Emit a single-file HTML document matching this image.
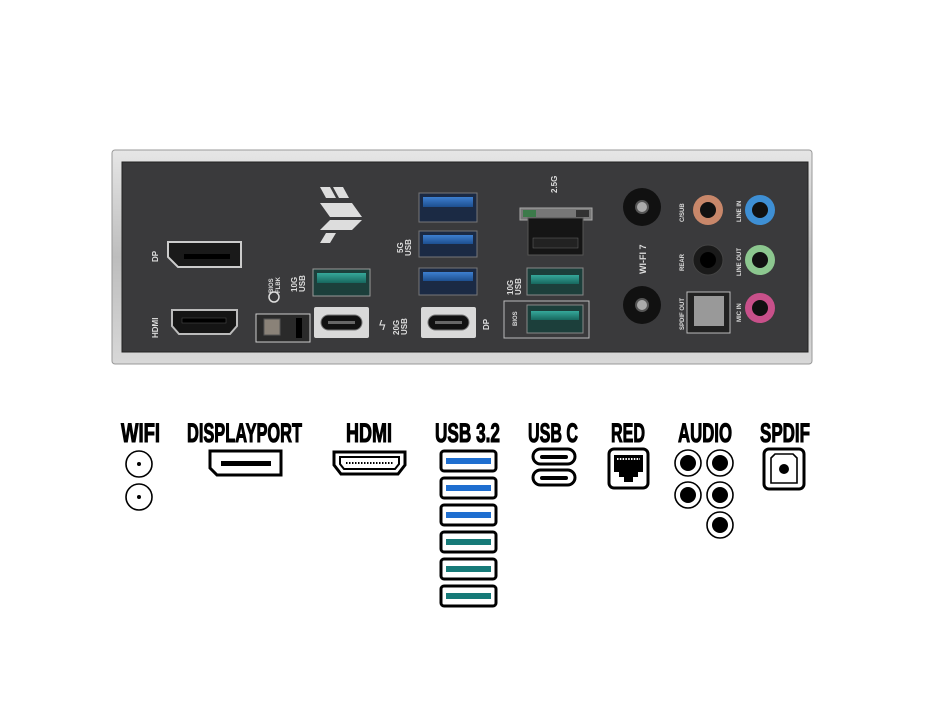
<!DOCTYPE html>
<html><head><meta charset="utf-8"><style>
html,body{margin:0;padding:0;background:#fff;}
svg{display:block;}
.lbl{font-family:"Liberation Sans",sans-serif;font-weight:bold;font-size:27px;fill:#000;stroke:#000;stroke-width:1.1;}
.pt{font-family:"Liberation Sans",sans-serif;font-weight:bold;font-size:8px;fill:#ddd;}
</style></head><body>
<svg width="930" height="708" viewBox="0 0 930 708" xmlns="http://www.w3.org/2000/svg">
<defs>
<linearGradient id="sil" x1="0" y1="0" x2="0" y2="1"><stop offset="0" stop-color="#e6e6e6"/><stop offset="0.5" stop-color="#bdbdbd"/><stop offset="1" stop-color="#d8d8d8"/></linearGradient>
<linearGradient id="blu" x1="0" y1="0" x2="0" y2="1"><stop offset="0" stop-color="#3d7fd0"/><stop offset="1" stop-color="#1d4f8f"/></linearGradient>
<linearGradient id="tea" x1="0" y1="0" x2="0" y2="1"><stop offset="0" stop-color="#35a89a"/><stop offset="1" stop-color="#17675e"/></linearGradient>
</defs>
<rect x="112" y="150" width="700" height="214" rx="3" fill="url(#sil)" stroke="#999" stroke-width="1"/>
<rect x="122" y="162" width="686" height="190" fill="#3a3a3c"/>
<rect x="122" y="162" width="686" height="190" fill="none" stroke="#222" stroke-width="1"/>
<text class="pt" transform="translate(158,262) rotate(-90)">DP</text>
<path d="M168 242 H241 V267 H178 L168 257 Z" fill="#1a1a1a" stroke="#ccc" stroke-width="2"/>
<rect x="184" y="254" width="46" height="5" fill="#000"/>
<text class="pt" transform="translate(158,338) rotate(-90)">HDMI</text>
<path d="M172 310 H237 V326 L230 334 H179 L172 326 Z" fill="#151515" stroke="#bbb" stroke-width="2"/>
<rect x="182" y="318" width="44" height="5" fill="#000" stroke="#555" stroke-width="0.5"/>
<g fill="#ddd">
<polygon points="320,187 330,187 336,198 326,198"/><polygon points="333,187 343,187 349,198 339,198"/>
<polygon points="320,203 352,203 362,217 330,217"/>
<polygon points="330,220 362,220 352,230 320,230"/>
<polygon points="326,233 336,233 330,243 320,243"/>
</g>
<text class="pt" style="font-size:6px" transform="translate(273,293) rotate(-90)">BIOS</text>
<text class="pt" style="font-size:6px" transform="translate(280,293) rotate(-90)">FLBK</text>
<circle cx="274" cy="297" r="5" fill="none" stroke="#ddd" stroke-width="1.5"/>
<rect x="256" y="314" width="54" height="28" fill="#2a2a2a" stroke="#ccc" stroke-width="1"/>
<rect x="264" y="319" width="16" height="16" fill="#8a8278" stroke="#555"/>
<rect x="296" y="318" width="6" height="20" fill="#000"/>
<text class="pt" transform="translate(297,292) rotate(-90)">10G</text>
<text class="pt" transform="translate(305,292) rotate(-90)">USB</text>
<rect x="313" y="269" width="57" height="27" fill="#1c3f3b" stroke="#999" stroke-width="1"/>
<rect x="317" y="273" width="49" height="10" fill="url(#tea)"/>
<rect x="314" y="307" width="55" height="31" rx="2" fill="#d9d9d9"/>
<rect x="321" y="315" width="41" height="15" rx="7.5" fill="#111" stroke="#777"/>
<rect x="328" y="321" width="27" height="3" fill="#666"/>
<text x="378" y="330" style="font-family:'DejaVu Sans',sans-serif;font-size:13px;fill:#ddd">ϟ</text>
<text class="pt" transform="translate(399,335) rotate(-90)">20G</text>
<text class="pt" transform="translate(407,335) rotate(-90)">USB</text>
<g>
<rect x="419" y="193" width="58" height="29" fill="#1b2a44" stroke="#777"/><rect x="423" y="197" width="50" height="10" fill="url(#blu)"/>
<rect x="419" y="231" width="58" height="26" fill="#1b2a44" stroke="#777"/><rect x="423" y="235" width="50" height="9" fill="url(#blu)"/>
<rect x="419" y="268" width="58" height="27" fill="#1b2a44" stroke="#777"/><rect x="423" y="272" width="50" height="9" fill="url(#blu)"/>
</g>
<text class="pt" transform="translate(403,253) rotate(-90)">5G</text>
<text class="pt" transform="translate(411,256) rotate(-90)">USB</text>
<rect x="421" y="307" width="55" height="31" rx="2" fill="#d9d9d9"/>
<rect x="428" y="315" width="41" height="15" rx="7.5" fill="#111" stroke="#777"/>
<rect x="435" y="321" width="27" height="3" fill="#666"/>
<text class="pt" transform="translate(489,330) rotate(-90)">DP</text>
<text class="pt" transform="translate(557,193) rotate(-90)">2.5G</text>
<rect x="520" y="208" width="72" height="12" fill="#777" stroke="#aaa"/>
<rect x="523" y="210" width="13" height="7" fill="#3c7a4a"/>
<rect x="576" y="210" width="13" height="7" fill="#333"/>
<rect x="528" y="218" width="55" height="37" fill="#151515" stroke="#555"/>
<rect x="533" y="238" width="45" height="10" fill="#222" stroke="#666" stroke-width="0.5"/>
<text class="pt" transform="translate(513,295) rotate(-90)">10G</text>
<text class="pt" transform="translate(521,295) rotate(-90)">USB</text>
<rect x="527" y="268" width="56" height="27" fill="#1c3f3b" stroke="#888"/><rect x="531" y="275" width="48" height="9" fill="url(#tea)"/>
<rect x="504" y="301" width="85" height="37" fill="none" stroke="#bbb" stroke-width="1"/>
<text class="pt" style="font-size:6px" transform="translate(517,326) rotate(-90)">BIOS</text>
<rect x="527" y="305" width="56" height="28" fill="#1c3f3b" stroke="#888"/><rect x="531" y="311" width="48" height="9" fill="url(#tea)"/>
<circle cx="642" cy="207" r="19" fill="#111"/><circle cx="642" cy="207" r="6" fill="#aaa" stroke="#555" stroke-width="2"/>
<circle cx="642" cy="305" r="19" fill="#111"/><circle cx="642" cy="305" r="6" fill="#aaa" stroke="#555" stroke-width="2"/>
<text class="pt" style="font-size:9px" transform="translate(646,274) rotate(-90)">WI-FI 7</text>
<text class="pt" style="font-size:6px" transform="translate(684,222) rotate(-90)">C/SUB</text>
<text class="pt" style="font-size:6px" transform="translate(684,271) rotate(-90)">REAR</text>
<text class="pt" style="font-size:6px" transform="translate(684,330) rotate(-90)">SPDIF OUT</text>
<text class="pt" style="font-size:6px" transform="translate(741,222) rotate(-90)">LINE IN</text>
<text class="pt" style="font-size:6px" transform="translate(741,276) rotate(-90)">LINE OUT</text>
<text class="pt" style="font-size:6px" transform="translate(741,322) rotate(-90)">MIC IN</text>
<circle cx="708" cy="210" r="15" fill="#c8876a"/><circle cx="708" cy="210" r="8" fill="#111"/>
<circle cx="760" cy="210" r="15" fill="#3e8fd4"/><circle cx="760" cy="210" r="8" fill="#111"/>
<circle cx="708" cy="260" r="15" fill="#1a1a1a" stroke="#444"/><circle cx="708" cy="260" r="8" fill="#000"/>
<circle cx="760" cy="260" r="15" fill="#8cc78f"/><circle cx="760" cy="260" r="8" fill="#111"/>
<circle cx="760" cy="308" r="15" fill="#c8508a"/><circle cx="760" cy="308" r="8" fill="#111"/>
<rect x="687" y="292" width="43" height="41" fill="#222" stroke="#bbb"/>
<path d="M694 296 H724 V326 H694 Z" fill="#999"/>
<text class="lbl" x="121" y="442" textLength="39" lengthAdjust="spacingAndGlyphs">WIFI</text>
<text class="lbl" x="187" y="442" textLength="115" lengthAdjust="spacingAndGlyphs">DISPLAYPORT</text>
<text class="lbl" x="346" y="442" textLength="46" lengthAdjust="spacingAndGlyphs">HDMI</text>
<text class="lbl" x="435" y="442" textLength="65" lengthAdjust="spacingAndGlyphs">USB 3.2</text>
<text class="lbl" x="528" y="442" textLength="50" lengthAdjust="spacingAndGlyphs">USB C</text>
<text class="lbl" x="611" y="442" textLength="34" lengthAdjust="spacingAndGlyphs">RED</text>
<text class="lbl" x="678" y="442" textLength="54" lengthAdjust="spacingAndGlyphs">AUDIO</text>
<text class="lbl" x="760" y="442" textLength="50" lengthAdjust="spacingAndGlyphs">SPDIF</text>
<g fill="none" stroke="#000" stroke-width="1.6">
<circle cx="139" cy="464" r="13"/><circle cx="139" cy="497" r="13"/>
</g>
<circle cx="139" cy="464" r="2" fill="#000"/><circle cx="139" cy="497" r="2" fill="#000"/>
<path d="M210 451 H281 V475 H217 L210 468 Z" fill="#fff" stroke="#000" stroke-width="3"/>
<rect x="221" y="461" width="50" height="5" fill="#000"/>
<path d="M334 452 H405 V465 L398 474 H341 L334 465 Z" fill="#fff" stroke="#000" stroke-width="3"/>
<path d="M340 457 H399 V464 L395 469 H344 L340 464 Z" fill="#fff" stroke="#000" stroke-width="2"/>
<line x1="346" y1="463" x2="393" y2="463" stroke="#000" stroke-width="2" stroke-dasharray="1.5 1.5"/>
<g stroke="#000" stroke-width="3" fill="#fff">
<rect x="441" y="451" width="55" height="20" rx="3"/>
<rect x="441" y="478" width="55" height="20" rx="3"/>
<rect x="441" y="505" width="55" height="20" rx="3"/>
<rect x="441" y="532" width="55" height="20" rx="3"/>
<rect x="441" y="559" width="55" height="20" rx="3"/>
<rect x="441" y="586" width="55" height="20" rx="3"/>
</g>
<rect x="446" y="458" width="45" height="6" fill="#1f6fd0"/>
<rect x="446" y="485" width="45" height="6" fill="#1f6fd0"/>
<rect x="446" y="512" width="45" height="6" fill="#1f6fd0"/>
<rect x="446" y="539" width="45" height="6" fill="#167a78"/>
<rect x="446" y="566" width="45" height="6" fill="#167a78"/>
<rect x="446" y="593" width="45" height="6" fill="#167a78"/>
<g stroke="#000" fill="#fff" stroke-width="3">
<rect x="533" y="449" width="42" height="15" rx="7.5"/>
<rect x="533" y="470" width="42" height="15" rx="7.5"/>
</g>
<rect x="540" y="455" width="28" height="4" rx="2" fill="#000"/>
<rect x="540" y="476" width="28" height="4" rx="2" fill="#000"/>
<rect x="609" y="449" width="39" height="39" rx="5" fill="#fff" stroke="#000" stroke-width="3"/>
<path d="M614 455 H643 V472 H638 V477 H633 V482 H624 V477 H619 V472 H614 Z" fill="#000"/>
<line x1="617" y1="459" x2="640" y2="459" stroke="#fff" stroke-width="2" stroke-dasharray="1.5 1.3"/>
<g fill="#fff" stroke="#000" stroke-width="1.6">
<circle cx="688" cy="463" r="13"/><circle cx="720" cy="463" r="13"/>
<circle cx="688" cy="495" r="13"/><circle cx="720" cy="495" r="13"/><circle cx="720" cy="525" r="13"/>
</g>
<g fill="#000">
<circle cx="688" cy="463" r="8"/><circle cx="720" cy="463" r="8"/>
<circle cx="688" cy="495" r="8"/><circle cx="720" cy="495" r="8"/><circle cx="720" cy="525" r="8"/>
</g>
<rect x="764" y="449" width="40" height="40" rx="5" fill="#fff" stroke="#000" stroke-width="3"/>
<path d="M771 458 L775 454 H793 L797 458 V483 H771 Z" fill="#fff" stroke="#000" stroke-width="1.6"/>
<circle cx="784" cy="469" r="5" fill="#000"/>
</svg>
</body></html>
